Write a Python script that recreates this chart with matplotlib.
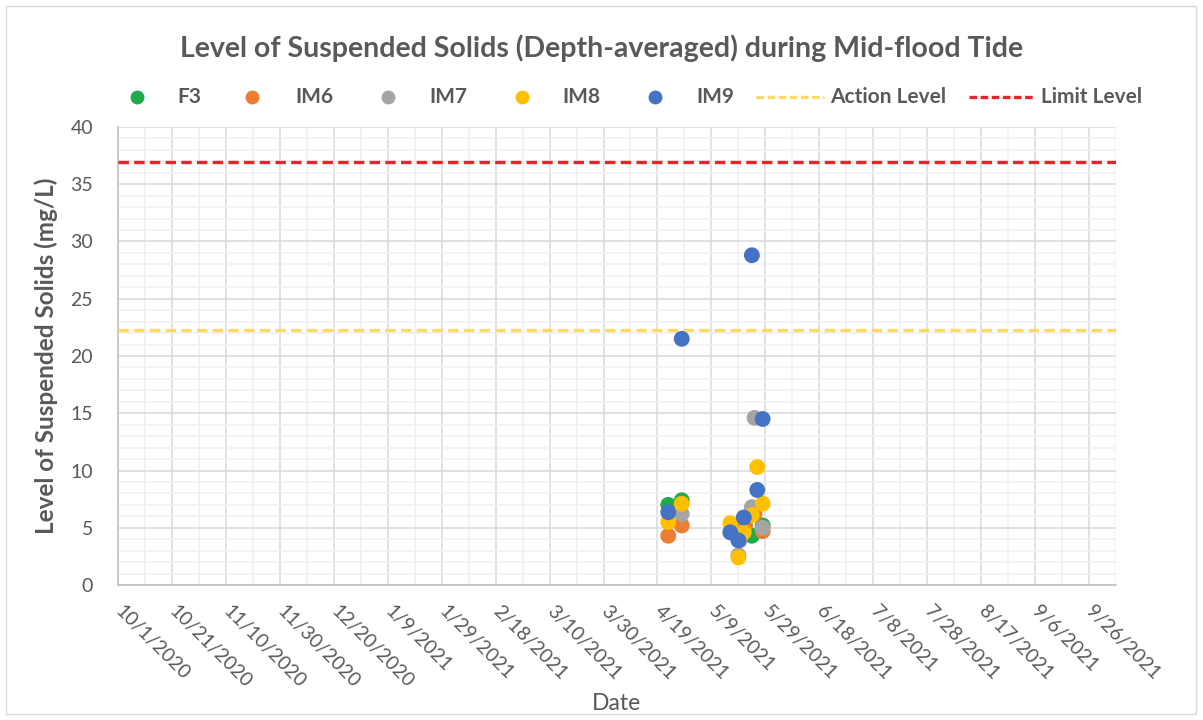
import matplotlib
matplotlib.use("Agg")
import matplotlib.pyplot as plt
import matplotlib.dates as mdates
from matplotlib.lines import Line2D
from matplotlib.patches import Rectangle
import pandas as pd

plt.rcParams['font.family'] = ['Lato', 'DejaVu Sans']
plt.rcParams['lines.scale_dashes'] = False

# Depth-averaged suspended solids (mg/L) by station and sampling date
f3_dates = ["2021-04-23", "2021-04-28", "2021-05-24", "2021-05-28"]
f3_vals = [7.0, 7.4, 4.3, 5.2]

im6_dates = ["2021-04-23", "2021-04-28", "2021-05-21 12:00", "2021-05-25", "2021-05-28"]
im6_vals = [4.3, 5.2, 5.2, 6.2, 4.7]

im7_dates = ["2021-04-28", "2021-05-19", "2021-05-19 12:00", "2021-05-24", "2021-05-25", "2021-05-28"]
im7_vals = [6.2, 2.6, 3.9, 6.8, 14.6, 5.0]

im8_dates = ["2021-04-23", "2021-04-28", "2021-05-16", "2021-05-19", "2021-05-21",
             "2021-05-24", "2021-05-26", "2021-05-28"]
im8_vals = [5.5, 7.1, 5.4, 2.4, 4.6, 6.1, 10.3, 7.1]

im9_dates = ["2021-04-23", "2021-04-28", "2021-05-16", "2021-05-19", "2021-05-21",
             "2021-05-24", "2021-05-26", "2021-05-28"]
im9_vals = [6.35, 21.5, 4.6, 3.9, 5.9, 28.8, 8.3, 14.5]

action_level = 22.3
limit_level = 36.9

series = [
    ("F3", f3_dates, f3_vals, "#1FAA4C"),
    ("IM6", im6_dates, im6_vals, "#ED7D31"),
    ("IM7", im7_dates, im7_vals, "#A5A5A5"),
    ("IM8", im8_dates, im8_vals, "#FFC000"),
    ("IM9", im9_dates, im9_vals, "#4472C4"),
]

text_grey = "#595959"
start = pd.Timestamp("2020-10-01")
end = start + pd.Timedelta(days=367)
major_ticks = pd.date_range(start, periods=19, freq="20D")
minor_ticks = pd.date_range(start + pd.Timedelta(days=10), periods=19, freq="20D")

fig = plt.figure(figsize=(12.03, 7.2), dpi=100)
ax = fig.add_axes([118 / 1203, 1 - 585 / 720, (1116 - 118) / 1203, (585 - 127) / 720])

for name, d, v, c in series:
    ax.scatter(pd.to_datetime(d, format="mixed"), v, s=130, color=c,
               edgecolors="none", zorder=4, label=name)

ax.axhline(action_level, color="#FFD966", lw=2.4, dashes=(7.5, 3.8), zorder=3)
ax.axhline(limit_level, color="#E3262B", lw=2.4, dashes=(7.5, 3.8), zorder=3)

ax.set_xlim(start, end)
ax.set_ylim(0, 40)
ax.set_xticks(major_ticks)
ax.set_xticks(minor_ticks, minor=True)
ax.set_yticks(range(0, 41, 5))
ax.set_yticks(range(0, 41, 1), minor=True)
ax.xaxis.set_major_formatter(mdates.DateFormatter("%-m/%-d/%Y"))

ax.grid(which="major", color="#D9D9D9", lw=1.1, zorder=0)
ax.grid(which="minor", color="#F0F0F0", lw=1.1, zorder=0)
ax.set_axisbelow(True)
for s in ("top", "right"):
    ax.spines[s].set_visible(False)
for s in ("left", "bottom"):
    ax.spines[s].set_color("#BFBFBF")
    ax.spines[s].set_linewidth(1.1)

ax.tick_params(which="both", length=0)
ax.tick_params(axis="y", labelsize=14, labelcolor=text_grey, pad=18)
ax.tick_params(axis="x", labelsize=14, labelcolor=text_grey, pad=17)
for lbl in ax.get_xticklabels():
    lbl.set_rotation(-45)
    lbl.set_ha("left")
    lbl.set_va("center")
    lbl.set_rotation_mode("anchor")

ax.set_ylabel("Level of Suspended Solids (mg/L)", fontsize=17.5, fontweight="bold",
              color=text_grey, labelpad=9)
ax.set_xlabel("Date", fontsize=16.5, color=text_grey, labelpad=1)

fig.text(0.5, 1 - 48 / 720, "Level of Suspended Solids (Depth-averaged) during Mid-flood Tide",
         ha="center", va="center", fontsize=20.5, fontweight="bold", color=text_grey)

# legend row
ly = 1 - 97 / 720
marker_x = [136.7, 251.6, 387.7, 521.7, 655.0]
text_x = [177.6, 295.0, 429.0, 562.0, 696.0]
for (name, _, _, c), mx, tx in zip(series, marker_x, text_x):
    fig.add_artist(Line2D([mx / 1203], [ly], marker="o", markersize=10, color=c,
                          markeredgewidth=0, linestyle="none", transform=fig.transFigure))
    fig.text(tx / 1203, ly, name, ha="left", va="center", fontsize=15,
             fontweight="bold", color=text_grey)
for (x0, x1, tx, c, name) in [(756, 824, 830, "#FFD966", "Action Level"),
                              (969, 1034, 1041, "#E3262B", "Limit Level")]:
    fig.add_artist(Line2D([x0 / 1203, x1 / 1203], [ly, ly], color=c, lw=2.4,
                          dashes=(5.5, 2.5), transform=fig.transFigure))
    fig.text(tx / 1203, ly, name, ha="left", va="center", fontsize=15,
             fontweight="bold", color=text_grey)

fig.add_artist(Rectangle((6 / 1203, 6 / 720), 1190 / 1203, 708 / 720, fill=False,
                         edgecolor="#D9D9D9", lw=1.0, transform=fig.transFigure))

fig.savefig("out.png", dpi=100)
